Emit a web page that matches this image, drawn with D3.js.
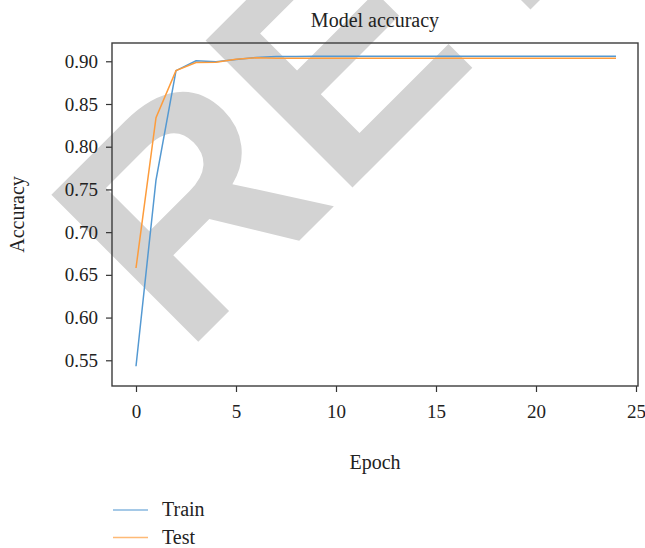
<!DOCTYPE html>
<html lang="en">
  <head>
    <style type="text/css">
      body {margin: 0; background-color: #fff;}
      svg text {font-family: "Liberation Serif", "DejaVu Serif", serif; fill: #222;}
    </style>
  </head>
  <body>
    <svg id="chart" width="645" height="548"></svg>
    <script src="https://d3js.org/d3.v7.min.js"></script>
    <script type="text/javascript">
        // values
        var epochs = d3.range(0, 25);
        var train = [0.543, 0.761, 0.889, 0.9005, 0.8995, 0.902, 0.9045, 0.9055, 0.9057, 0.9058,
                     0.9058, 0.9058, 0.9058, 0.9058, 0.9058, 0.9058, 0.9058, 0.9058, 0.9058, 0.9058,
                     0.9058, 0.9058, 0.9058, 0.9058, 0.9058];
        var test = [0.658, 0.834, 0.889, 0.8985, 0.899, 0.9025, 0.904, 0.9036, 0.9035, 0.9035,
                    0.9035, 0.9035, 0.9035, 0.9035, 0.9035, 0.9035, 0.9035, 0.9035, 0.9035, 0.9035,
                    0.9035, 0.9035, 0.9035, 0.9035, 0.9035];
        var xTicks = [0, 5, 10, 15, 20, 25];
        var yTicks = [0.55, 0.60, 0.65, 0.70, 0.75, 0.80, 0.85, 0.90];
        var seriesNames = ["Train", "Test"];
        var colors = ["#5499d2", "#fd9c3c"];

        var svg = d3.select("#chart");
        var margin = {top: 43, right: 7, bottom: 162, left: 112};
        var width = 645 - margin.left - margin.right;
        var height = 548 - margin.top - margin.bottom;

        // watermark behind everything, clipped to the page
        svg.append("clipPath").attr("id", "page")
          .append("rect").attr("width", 645).attr("height", 548);
        svg.append("g").attr("clip-path", "url(#page)")
          .append("text")
            .attr("transform", "translate(184,356) rotate(-45)")
            .style("font-family", "'Liberation Sans', Arial, sans-serif")
            .style("font-weight", "bold")
            .style("font-size", "302px")
            .style("fill", "#d3d3d3")
            .text("RETRACTED");

        var g = svg.append("g")
            .attr("transform", "translate(" + margin.left + "," + margin.top + ")");

        var x = d3.scaleLinear().domain([-1.2, 25.1]).range([0, width]);
        var y = d3.scaleLinear().domain([0.5199, 0.9214]).range([height, 0]);

        // axes
        var xAxis = g.append("g")
            .attr("transform", "translate(0," + height + ")")
            .call(d3.axisBottom(x).tickValues(xTicks).tickSize(6).tickPadding(6).tickFormat(d3.format("d")));
        var yAxis = g.append("g")
            .call(d3.axisLeft(y).tickValues(yTicks).tickSize(6).tickPadding(8).tickFormat(d3.format(".2f")));

        [xAxis, yAxis].forEach(function(a) {
          a.select(".domain").remove();
          a.selectAll(".tick line").attr("stroke", "#333").attr("stroke-width", 1.2);
          a.selectAll(".tick text")
            .style("font-family", "'Liberation Serif', serif")
            .style("font-size", "19px")
            .attr("fill", "#222");
        });
        xAxis.selectAll(".tick text").attr("dy", "1.05em");

        // frame
        g.append("rect")
            .attr("width", width).attr("height", height)
            .attr("fill", "none").attr("stroke", "#3c3c3c").attr("stroke-width", 1.4);

        // lines
        var line = d3.line()
            .x(function(d, i) { return x(epochs[i]); })
            .y(function(d) { return y(d); });

        [train, test].forEach(function(s, i) {
          g.append("path")
            .datum(s)
            .attr("fill", "none")
            .attr("stroke", colors[i])
            .attr("stroke-width", 1.5)
            .attr("d", line);
        });

        // labels
        svg.append("text")
            .attr("x", margin.left + width / 2).attr("y", 27)
            .attr("text-anchor", "middle")
            .style("font-size", "20px")
            .text("Model accuracy");
        svg.append("text")
            .attr("x", margin.left + width / 2).attr("y", 469)
            .attr("text-anchor", "middle")
            .style("font-size", "20px")
            .text("Epoch");
        svg.append("text")
            .attr("transform", "translate(24," + (margin.top + height / 2) + ") rotate(-90)")
            .attr("text-anchor", "middle")
            .style("font-size", "20px")
            .text("Accuracy");

        // legend
        var legend = svg.append("g").attr("transform", "translate(113,510)");
        seriesNames.forEach(function(name, i) {
          var row = legend.append("g").attr("transform", "translate(0," + (i * 27.5) + ")");
          row.append("line")
            .attr("x1", 0).attr("x2", 35)
            .attr("stroke", colors[i]).attr("stroke-opacity", 0.7).attr("stroke-width", 1.5);
          row.append("text")
            .attr("x", 49).attr("y", 6)
            .style("font-size", "20px")
            .text(name);
        });
    </script>
  </body>
</html>
